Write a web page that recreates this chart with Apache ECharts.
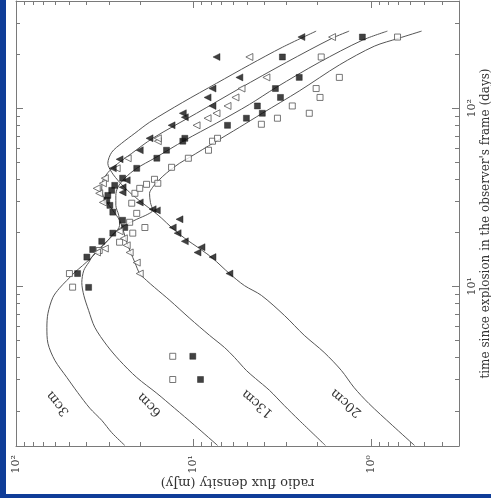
<!DOCTYPE html>
<html>
<head>
<meta charset="utf-8">
<script src="https://cdn.jsdelivr.net/npm/echarts@6/dist/echarts.min.js"></script>
<style>
  html, body { margin: 0; padding: 0; background: #0f3d98; }
  #paper { position: absolute; left: 6px; top: 0; width: 485px; height: 494px; background: #fff; }
  #chart { position: absolute; left: 0; top: 0; width: 491px; height: 498px; }
</style>
</head>
<body>
<div id="paper"></div>
<div id="chart"></div>
<script>
// ---------------- observed points (days, mJy) ----------------
let obs3cmDays  = [3.0, 4.05, 9.9, 11.8, 15.9, 17.7, 19.9, 21.4, 22.9, 25.7, 29.3, 33.3, 35.5, 37.4, 39.9, 37.9, 46.6, 52.4, 58.1, 65.3, 67.8, 81.3, 87.9, 93.7, 103, 115, 129, 149, 194, 251];
let obs3cmFlux  = [13.1, 13.1, 48, 50, 34, 26.1, 22.0, 18.8, 22.9, 20.9, 22.3, 21.4, 20.1, 18.4, 16.6, 15.9, 13.3, 10.7, 8.24, 7.82, 7.33, 4.15, 3.37, 2.23, 2.78, 1.94, 2.04, 1.51, 1.91, 0.71];

let obs6cmDays  = [3.0, 4.05, 9.87, 11.8, 14.6, 16.1, 17.9, 19.9, 21.4, 23.5, 26.1, 28.5, 30.4, 32.4, 34.6, 36.9, 40.5, 46.0, 52.4, 58.1, 65.3, 67.8, 80.2, 87.9, 93.7, 103, 115, 129, 149, 194, 251];
let obs6cmFlux  = [9.14, 10.1, 39, 45, 39.9, 37, 32.9, 28.5, 24.4, 25.1, 28.5, 29.6, 30.8, 30.4, 28.9, 27.8, 25.1, 20.9, 16.1, 14.2, 11.5, 11.2, 6.44, 5.04, 4.10, 4.37, 3.24, 3.46, 2.54, 3.16, 1.12];

let obs13cmDays = [11.8, 13.6, 15.5, 16.3, 15.5, 17.0, 18.6, 20.4, 29.6, 33.3, 35.5, 37.9, 40.5, 46.0, 52.4, 65.3, 67.8, 80.2, 87.9, 93.7, 103, 115, 129, 149, 194, 251];
let obs13cmFlux = [20.1, 20.9, 22.9, 31.6, 35, 23.8, 24.7, 26.1, 32.4, 34, 35.1, 32.4, 31.6, 27.1, 23.5, 15.9, 15.9, 9.62, 8.34, 7.43, 6.44, 5.81, 5.37, 3.89, 4.85, 1.66];

let obs20cmDays = [11.8, 14.6, 16.6, 15.5, 17.9, 19.9, 21.4, 23.8, 26.7, 27.1, 29.6, 33.7, 36.0, 39.4, 46.0, 51.7, 58.1, 67.8, 80.2, 89.0, 93.7, 103, 115, 129, 149, 194, 251];
let obs20cmFlux = [6.28, 7.82, 9.02, 9.50, 11.2, 12.3, 13.1, 12.0, 16.1, 17.0, 20.1, 25.1, 25.1, 23.8, 28.5, 26.1, 20.1, 17.7, 13.3, 11.2, 11.5, 7.82, 8.34, 7.82, 5.52, 7.43, 2.47];

// ---------------- model light curves ----------------
let model3cmDays  = [1.28, 1.51, 1.77, 2.07, 2.54, 3.08, 3.84, 4.79, 5.89, 7.05, 8.67, 9.75, 10.8, 12.0, 13.1, 14.4, 16.1, 18.1, 20.1, 22.0, 23.8, 25.4, 26.7, 29.6, 33.3, 36.0, 38.4, 41.5, 44.8, 49.1, 53.1, 64.4, 78.1, 93.7, 125, 175, 223, 247, 271];
let model3cmFlux  = [24.4, 28.9, 32.9, 38.4, 45, 51.7, 60.4, 66.1, 67.0, 66.1, 62.0, 57, 51.7, 46.6, 42.1, 37.9, 34, 30.4, 27.8, 24.4, 20.9, 18.1, 17.0, 17.5, 17.7, 17.0, 16.1, 14.9, 13.6, 12.0, 10.5, 7.62, 5.52, 4.10, 2.54, 1.51, 0.96, 0.70, 0.52];

let model6cmDays  = [1.28, 1.66, 2.07, 2.51, 3.08, 3.84, 4.67, 5.89, 7.33, 8.90, 10.5, 12.3, 13.6, 14.9, 16.3, 18.1, 19.9, 22.0, 25.1, 28.5, 32.4, 36.0, 40.5, 46.0, 52.4, 66.1, 82.5, 105, 131, 181, 241, 271];
let model6cmFlux  = [7.33, 9.87, 12.8, 16.1, 20.9, 26.1, 30.8, 36.0, 39, 41.5, 42.6, 41.5, 39, 36.9, 34, 30.4, 27.8, 26.1, 26.4, 27.4, 27.4, 26.7, 24.4, 20.9, 16.6, 11.2, 7.43, 4.85, 3.42, 1.96, 1.12, 0.81];

let model13cmDays = [1.28, 1.77, 2.14, 2.61, 3.04, 3.37, 3.99, 4.54, 5.31, 6.61, 8.34, 9.87, 10.8, 11.8, 13.6, 15.5, 17.7, 20.1, 23.5, 26.7, 30.4, 34.6, 39.4, 44.8, 49.8, 55.8, 67.8, 93.7, 129, 181, 247, 271];
let model13cmFlux = [1.81, 2.54, 3.08, 3.74, 4.48, 5.04, 5.88, 6.70, 8.13, 10.5, 13.6, 16.6, 18.4, 20.1, 21.4, 22.6, 23.8, 24.7, 26.1, 28.5, 31.2, 32.9, 32.4, 29.6, 26.1, 22.3, 17.0, 9.62, 5.52, 3.00, 1.66, 1.33];

let model20cmDays = [1.28, 1.66, 2.20, 2.71, 3.37, 4.26, 5.31, 6.87, 8.90, 10.1, 11.8, 14.4, 16.3, 18.6, 21.4, 24.1, 26.1, 29.6, 33.7, 38.4, 43.7, 49.1, 56.6, 63.6, 72.4, 83.4, 108, 138, 175, 220, 271];
let model20cmFlux = [0.57, 0.76, 1.03, 1.25, 1.47, 1.84, 2.38, 3.08, 4.15, 5.17, 6.28, 7.82, 9.25, 11.2, 13.3, 15.1, 16.6, 19.6, 22.9, 26.1, 28.9, 30.4, 28.9, 25.4, 21.4, 17.7, 11.5, 7.43, 4.85, 3.16, 2.04];

// ---------------- curve labels (flux, days) ----------------
let bandNames   = ["3cm", "6cm", "13cm", "20cm"];
let bandLabelAt = [[58.1, 2.2], [17.7, 2.17], [4.37, 2.2], [1.38, 2.22]];
let bandLabelRot = [130, 135, 140, 140];

// ---------------- axes ----------------
let fluxMin = 0.32, fluxMax = 100;
let dayMin = 1.27, dayMax = 400;
let fluxMajor = [1, 10, 100];
let fluxMinor = [0.4, 0.5, 0.6, 0.7, 0.8, 0.9, 2, 3, 4, 5, 6, 7, 8, 9, 20, 30, 40, 50, 60, 70, 80, 90];
let dayMajor = [10, 100];
let dayMinor = [2, 3, 4, 5, 6, 7, 8, 9, 20, 30, 40, 50, 60, 70, 80, 90, 200, 300];
let powerLabels = {"0": "10\u2070", "1": "10\u00b9", "2": "10\u00b2"};

let serif = "DejaVu Serif";
let frameColor = "#7a7a7a";
let lineColor = "#555";

function pairs(flux, days) {
    return flux.map((f, i) => [f, days[i]]);
}
function powerLabel(v) {
    return powerLabels[String(Math.round(Math.log10(v)))] || "";
}

let chart_dom = document.getElementById("chart");
let chart = echarts.init(chart_dom, null, {renderer: "canvas"});

function fluxAxis(position, ticks, len, withLine, withLabel) {
    return {
        type: "log", inverse: true, min: fluxMin, max: fluxMax, position: position,
        axisLine: {show: withLine, onZero: false, lineStyle: {color: frameColor, width: 1}},
        axisTick: {show: true, inside: true, length: len, customValues: ticks, lineStyle: {color: frameColor}},
        axisLabel: withLabel ? {
            show: true, customValues: fluxMajor, rotate: 90, margin: 9,
            formatter: powerLabel, fontFamily: serif, fontSize: 11, color: "#333"
        } : {show: false},
        splitLine: {show: false},
        minorTick: {show: false}
    };
}
function dayAxis(position, ticks, len, withLine, withLabel) {
    return {
        type: "log", min: dayMin, max: dayMax, position: position,
        axisLine: {show: withLine, onZero: false, lineStyle: {color: frameColor, width: 1}},
        axisTick: {show: true, inside: true, length: len, customValues: ticks, lineStyle: {color: frameColor}},
        axisLabel: withLabel ? {
            show: true, customValues: dayMajor, rotate: 90, margin: 8,
            formatter: powerLabel, fontFamily: serif, fontSize: 11, color: "#333"
        } : {show: false},
        splitLine: {show: false},
        minorTick: {show: false}
    };
}

let xAxes = [
    fluxAxis("bottom", fluxMajor, 7, true, true),
    fluxAxis("bottom", fluxMinor, 4, false, false),
    fluxAxis("top", fluxMajor, 7, true, false),
    fluxAxis("top", fluxMinor, 4, false, false)
];
Object.assign(xAxes[0], {
    name: "radio flux density (mJy)", nameLocation: "middle", nameGap: 30, nameRotate: 180,
    nameMoveOverlap: false,
    nameTextStyle: {fontFamily: serif, fontSize: 13, color: "#333"}
});
let yAxes = [
    dayAxis("right", dayMajor, 7, true, true),
    dayAxis("right", dayMinor, 4, false, false),
    dayAxis("left", dayMajor, 7, true, false),
    dayAxis("left", dayMinor, 4, false, false)
];
Object.assign(yAxes[0], {
    name: "time since explosion in the observer's frame (days)", nameLocation: "middle", nameGap: 21, nameRotate: 90,
    nameMoveOverlap: false,
    nameTextStyle: {fontFamily: serif, fontSize: 12, color: "#333"}
});

function modelSeries(k, flux, days) {
    return {
        type: "line", name: bandNames[k] + " model", data: pairs(flux, days),
        showSymbol: false, smooth: 0.3, silent: true,
        lineStyle: {color: lineColor, width: 1},
        markPoint: {
            symbol: "circle", symbolSize: 0, silent: true,
            data: [{name: bandNames[k], coord: bandLabelAt[k]}],
            label: {show: true, position: "inside", formatter: "{b}", rotate: bandLabelRot[k],
                    fontFamily: serif, fontSize: 13, color: "#333"}
        }
    };
}
function obsSeries(name, flux, days, symbol, filled, rot) {
    return {
        type: "scatter", name: name, data: pairs(flux, days), silent: true,
        symbol: symbol, symbolSize: symbol === "rect" ? 6 : 7, symbolRotate: rot,
        itemStyle: filled ? {color: "#111", borderColor: "#111", borderWidth: 0.5}
                          : {color: "#fff", borderColor: "#555", borderWidth: 1},
        z: 3
    };
}

let option = {
    backgroundColor: "transparent",
    animation: false,
    grid: {left: 16, right: 32, top: 1, bottom: 52, containLabel: false, outerBoundsMode: "none"},
    xAxis: xAxes,
    yAxis: yAxes,
    series: [
        modelSeries(0, model3cmFlux, model3cmDays),
        modelSeries(1, model6cmFlux, model6cmDays),
        modelSeries(2, model13cmFlux, model13cmDays),
        modelSeries(3, model20cmFlux, model20cmDays),
        obsSeries("3cm", obs3cmFlux, obs3cmDays, "rect", false, 0),
        obsSeries("6cm", obs6cmFlux, obs6cmDays, "rect", true, 0),
        obsSeries("13cm", obs13cmFlux, obs13cmDays, "triangle", false, 90),
        obsSeries("20cm", obs20cmFlux, obs20cmDays, "triangle", true, 90)
    ]
};
chart.setOption(option);
</script>
</body>
</html>
